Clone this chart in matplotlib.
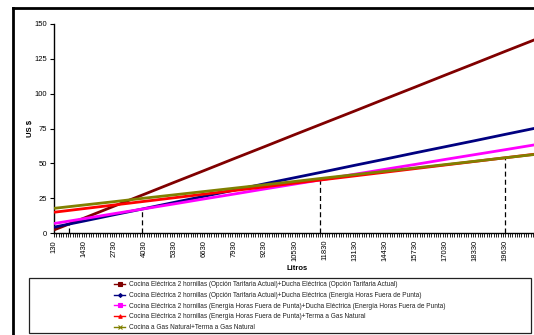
import numpy as np
import matplotlib
matplotlib.use("Agg")
from matplotlib import pyplot as plt
from matplotlib.lines import Line2D
from matplotlib.patches import Rectangle
from matplotlib.ticker import FixedLocator, NullFormatter

plt.rcParams['font.family'] = ['Liberation Sans', 'DejaVu Sans']

# litros (consumo) y costo en US $ para cada alternativa
litros = [130, 1430, 2730, 4030, 5330, 6630, 7930, 9230, 10530, 11830,
          13130, 14430, 15730, 17030, 18330, 19630, 21130]
tarifa_actual = [2.2, 10.7, 19.3, 27.8, 36.4, 44.9, 53.5, 62.0, 70.6, 79.1,
                 87.6, 96.2, 104.7, 113.3, 121.8, 130.4, 140.2]
actual_ducha_fp = [4.2, 8.6, 13.1, 17.5, 22.0, 26.4, 30.8, 35.3, 39.7, 44.1,
                   48.6, 53.0, 57.5, 61.9, 66.3, 70.8, 75.9]
fuera_punta = [6.8, 10.3, 13.9, 17.4, 20.9, 24.5, 28.0, 31.6, 35.1, 38.6,
               42.2, 45.7, 49.2, 52.8, 56.3, 59.8, 63.9]
fp_terma_gas = [14.9, 17.5, 20.1, 22.7, 25.3, 27.9, 30.5, 33.1, 35.8, 38.4,
                41.0, 43.6, 46.2, 48.8, 51.4, 54.0, 57.0]
gas_natural = [17.7, 20.1, 22.5, 25.0, 27.4, 29.8, 32.2, 34.6, 37.0, 39.5,
               41.9, 44.3, 46.7, 49.1, 51.5, 54.0, 56.8]

# puntos de cruce (lineas punteadas)
cruce_litros = [790, 3930, 11630, 19630]
cruce_costo = [6.6, 17.3, 38.2, 54.0]

etiquetas = [130, 1430, 2730, 4030, 5330, 6630, 7930, 9230, 10530, 11830,
             13130, 14430, 15730, 17030, 18330, 19630]

nombres = [
    "Cocina Eléctrica 2 hornillas (Opción Tarifaria Actual)+Ducha Eléctrica (Opción Tarifaria Actual)",
    "Cocina Eléctrica 2 hornillas (Opción Tarifaria Actual)+Ducha Eléctrica (Energía Horas Fuera de Punta)",
    "Cocina Eléctrica 2 hornillas (Energía Horas Fuera de Punta)+Ducha Eléctrica (Energía Horas Fuera de Punta)",
    "Cocina Eléctrica 2 hornillas (Energía Horas Fuera de Punta)+Terma a Gas Natural",
    "Cocina a Gas Natural+Terma a Gas Natural",
]
colores = ['#800000', '#000080', '#FF00FF', '#FF0000', '#808000']
marcas = ['s', 'D', 's', '^', 'x']
tam = [2.2, 2.0, 2.8, 2.5, 2.6]

fig = plt.figure(figsize=(5.34, 3.35), dpi=100)
ax = fig.add_axes([54 / 534, 1 - 233 / 335, 486 / 534, 209 / 335])

series = [tarifa_actual, actual_ducha_fp, fuera_punta, fp_terma_gas, gas_natural]
for s, c in zip(series, colores):
    ax.plot(litros, s, color=c, lw=2.0, solid_capstyle='butt', zorder=3)

for x, y in zip(cruce_litros, cruce_costo):
    ax.plot([x, x], [0, y], color='black', lw=0.9, ls=(0, (4, 2.5)), zorder=2)

ax.set_xlim(130, 21130)
ax.set_ylim(0, 150)
ax.set_yticks([0, 25, 50, 75, 100, 125, 150])
ax.set_xticks(etiquetas)
ax.set_xticklabels([str(e) for e in etiquetas], rotation=90, fontsize=5.5)
ax.xaxis.set_minor_locator(FixedLocator(np.arange(130, 21200, 100)))
ax.xaxis.set_minor_formatter(NullFormatter())
ax.tick_params(axis='x', which='both', direction='out', length=3, width=0.6, pad=2)
ax.tick_params(axis='y', direction='out', length=3, width=0.8, labelsize=5.5, pad=2)
for side in ['top', 'right']:
    ax.spines[side].set_visible(False)
for side in ['left', 'bottom']:
    ax.spines[side].set_linewidth(1.0)

ax.set_xlabel("Litros", fontsize=5.5, fontweight='bold', labelpad=3)
ax.set_ylabel("US $", fontsize=5.5, fontweight='bold')
ax.yaxis.set_label_coords(-0.041, 0.5)

# marco del grafico
fig.add_artist(Line2D([13 / 534, 1.0], [1 - 7.5 / 335, 1 - 7.5 / 335],
                      color='black', lw=2.0, transform=fig.transFigure))
fig.add_artist(Line2D([13 / 534, 13 / 534], [0, 1 - 7.5 / 335],
                      color='black', lw=2.0, transform=fig.transFigure))

# cuadro de la leyenda
fig.add_artist(Rectangle((29 / 534, 1 - 333 / 335), 502 / 534, 55 / 335,
                         fill=False, edgecolor='#222222', lw=0.9,
                         transform=fig.transFigure))

handles = [Line2D([], [], color=c, lw=1.0, marker=m, ms=t, markeredgewidth=0.8)
           for c, m, t in zip(colores, marcas, tam)]
fig.legend(handles, nombres, loc='center', bbox_to_anchor=(280 / 534, 1 - 306 / 335),
           frameon=False, fontsize=4.7, handlelength=1.7, handletextpad=0.6,
           labelspacing=0.56, borderpad=0, labelcolor='#222222')

plt.savefig("out.png", dpi=100)
